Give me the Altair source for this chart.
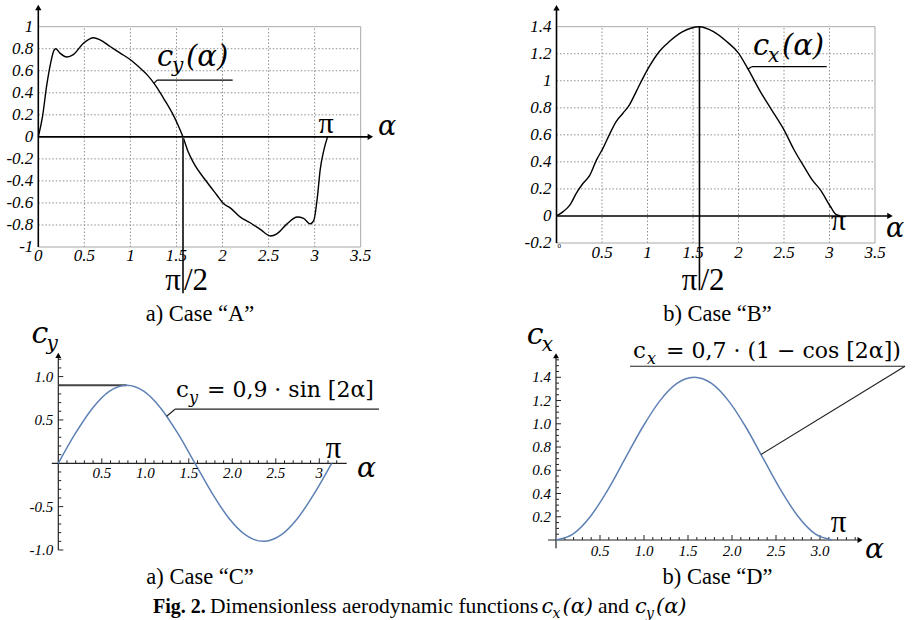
import altair as alt
import pandas as pd

TEXT_FONT = "Liberation Serif"
MATH_FONT = "DejaVu Serif"
BLUE = "#5e81b5"
GRID = "#8f8f8f"
FRAME = "#a8a8a8"

# ---------------- curve values ----------------
# Case A: lift coefficient c_y(alpha), measured curve
A_alpha = [0.00, 0.047, 0.09, 0.134, 0.17, 0.19, 0.235, 0.31, 0.38, 0.49, 0.60, 0.67,
           0.78, 0.89, 1.00, 1.105, 1.18, 1.27, 1.36, 1.47, 1.52, 1.57, 1.627, 1.68,
           1.83, 1.94, 2.01, 2.08, 2.19, 2.30, 2.41, 2.52, 2.59, 2.70, 2.81, 2.88,
           2.95, 2.99, 3.03, 3.06, 3.10, 3.14]
A_cy = [0.00, 0.19, 0.46, 0.67, 0.785, 0.80, 0.76, 0.725, 0.746, 0.85, 0.90, 0.88,
        0.82, 0.76, 0.70, 0.625, 0.565, 0.47, 0.35, 0.19, 0.10, 0.00, -0.136, -0.227,
        -0.41, -0.53, -0.606, -0.642, -0.727, -0.78, -0.84, -0.90, -0.88, -0.79, -0.727, -0.74,
        -0.79, -0.76, -0.545, -0.30, -0.12, 0.00]

# Case B: drag coefficient c_x(alpha), measured curve
B_alpha = [0.00, 0.073, 0.146, 0.22, 0.29, 0.365, 0.44, 0.51, 0.58, 0.657, 0.73, 0.80,
           0.876, 0.95, 1.02, 1.13, 1.24, 1.387, 1.571, 1.72, 1.87, 2.00, 2.11, 2.24,
           2.35, 2.50, 2.61, 2.72, 2.81, 2.90, 3.01, 3.07, 3.12]
B_cx = [0.00, 0.032, 0.08, 0.17, 0.24, 0.30, 0.415, 0.50, 0.60, 0.70, 0.76, 0.82,
        0.92, 1.02, 1.106, 1.217, 1.29, 1.363, 1.40, 1.365, 1.29, 1.205, 1.08, 0.92,
        0.80, 0.637, 0.49, 0.365, 0.267, 0.193, 0.07, 0.012, 0.00]

# Cases C and D: approximations sampled at alpha = k*pi/16
CD_alpha = [0.000, 0.196, 0.393, 0.589, 0.785, 0.982, 1.178, 1.374, 1.571,
            1.767, 1.963, 2.160, 2.356, 2.553, 2.749, 2.945, 3.142]
C_cy = [0.000, 0.344, 0.636, 0.832, 0.900, 0.832, 0.636, 0.344, 0.000,
        -0.344, -0.636, -0.832, -0.900, -0.832, -0.636, -0.344, 0.000]
D_cx = [0.000, 0.053, 0.205, 0.432, 0.700, 0.968, 1.195, 1.347, 1.400,
        1.347, 1.195, 0.968, 0.700, 0.432, 0.205, 0.053, 0.000]

# ---------------- tick values and labels ----------------
A_xticks = [0, 0.5, 1, 1.5, 2, 2.5, 3, 3.5]
A_xlabels = ["0", "0.5", "1", "1.5", "2", "2.5", "3", "3.5"]
A_yticks = [1, 0.8, 0.6, 0.4, 0.2, 0, -0.2, -0.4, -0.6, -0.8, -1]
A_ylabels = ["1", "0.8", "0.6", "0.4", "0.2", "0", "-0.2", "-0.4", "-0.6", "-0.8", "-1"]

B_xticks = [0.5, 1, 1.5, 2, 2.5, 3, 3.5]
B_xlabels = ["0.5", "1", "1.5", "2", "2.5", "3", "3.5"]
B_yticks = [1.4, 1.2, 1, 0.8, 0.6, 0.4, 0.2, 0, -0.2]
B_ylabels = ["1.4", "1.2", "1", "0.8", "0.6", "0.4", "0.2", "0", "-0.2"]

C_xticks = [0.5, 1.0, 1.5, 2.0, 2.5, 3.0]
C_xlabels = ["0.5", "1.0", "1.5", "2.0", "2.5", "3"]
C_yticks = [1.0, 0.5, -0.5, -1.0]
C_ylabels = ["1.0", "0.5", "-0.5", "-1.0"]

D_xticks = [0.5, 1.0, 1.5, 2.0, 2.5, 3.0]
D_xlabels = ["0.5", "1.0", "1.5", "2.0", "2.5", "3.0"]
D_yticks = [0.2, 0.4, 0.6, 0.8, 1.0, 1.2, 1.4]
D_ylabels = ["0.2", "0.4", "0.6", "0.8", "1.0", "1.2", "1.4"]


class Panel:
    """A set of layers sharing one x/y scale pair placed on the page."""

    def __init__(self, xdom, xrng, ydom, yrng):
        self.sx = alt.Scale(domain=xdom, range=xrng, nice=False, zero=False)
        self.sy = alt.Scale(domain=ydom, range=yrng, nice=False, zero=False)
        self.layers = []

    def _xy(self):
        return dict(x=alt.X("a:Q", scale=self.sx, axis=None),
                    y=alt.Y("v:Q", scale=self.sy, axis=None))

    def curve(self, a, v, color, width):
        df = pd.DataFrame({"a": a, "v": v})
        self.layers.append(
            alt.Chart(df).mark_line(color=color, strokeWidth=width, interpolate="monotone")
            .encode(**self._xy()))

    def segments(self, segs, color, width, dash=None):
        df = pd.DataFrame(segs, columns=["a", "v", "a2", "v2"])
        kw = dict(color=color, strokeWidth=width)
        if dash:
            kw["strokeDash"] = dash
        self.layers.append(
            alt.Chart(df).mark_rule(**kw)
            .encode(**self._xy(), x2=alt.X2("a2"), y2=alt.Y2("v2")))

    def xticks(self, vals, length, color="#222222", width=1):
        df = pd.DataFrame({"a": vals, "v": [0.0] * len(vals)})
        self.layers.append(
            alt.Chart(df).mark_rule(color=color, strokeWidth=width, y2Offset=-length)
            .encode(**self._xy(), y2=alt.Y2("v")))

    def yticks(self, vals, length, color="#222222", width=1):
        df = pd.DataFrame({"a": [0.0] * len(vals), "v": vals})
        self.layers.append(
            alt.Chart(df).mark_rule(color=color, strokeWidth=width, x2Offset=length)
            .encode(**self._xy(), x2=alt.X2("a")))

    def texts(self, a, v, labels, **mark):
        df = pd.DataFrame({"a": a, "v": v, "t": labels})
        mark.setdefault("color", "black")
        self.layers.append(
            alt.Chart(df).mark_text(**mark).encode(**self._xy(), text="t:N"))

    def arrow(self, a, v, shape, size=40):
        df = pd.DataFrame({"a": [a], "v": [v]})
        self.layers.append(
            alt.Chart(df).mark_point(shape=shape, filled=True, size=size, color="black", opacity=1)
            .encode(**self._xy()))

    def math(self, a, v, parts):
        # parts: (text, dx, dy, size, style)
        for text, dx, dy, size, style in parts:
            self.texts([a], [v], [text], font=MATH_FONT, fontSize=size, fontStyle=style,
                       align="left", baseline="alphabetic", dx=dx, dy=dy)

    def half_pi(self, a, v):
        # "π/2" written on both sides of the vertical marker line at alpha = pi/2
        self.texts([a], [v], ["π"], font=TEXT_FONT, fontSize=31, align="right",
                   baseline="alphabetic", dx=-2)
        self.texts([a], [v], ["/2"], font=TEXT_FONT, fontSize=31, align="left",
                   baseline="alphabetic", dx=1)

    def chart(self):
        return alt.layer(*self.layers)


def tick_labels(p, xt, xl, xv, xdy, yt, yl, size):
    p.texts(xt, [xv] * len(xt), xl, font=TEXT_FONT, fontSize=size, fontStyle="italic",
            align="center", baseline="middle", dy=xdy)
    p.texts([0.0] * len(yt), yt, yl, font=TEXT_FONT, fontSize=size, fontStyle="italic",
            align="right", baseline="middle", dx=-5)


def pi_label(p, a, v, size=30):
    p.texts([a], [v], ["π"], font=TEXT_FONT, fontSize=size, align="center", baseline="alphabetic")


def alpha_label(p, a, v, size=27):
    p.texts([a], [v], ["α"], font=MATH_FONT, fontSize=size, fontStyle="italic",
            align="center", baseline="alphabetic")


# ---------------- Case A ----------------
pA = Panel([0, 3.5], [38.3, 360.7], [-1, 1], [247, 26.7])
pA.segments([(x, -1, x, 1) for x in [0.5, 1, 1.5, 2, 2.5, 3]], GRID, 1, [1.5, 2])
pA.segments([(0, y, 3.5, y) for y in [-0.8, -0.6, -0.4, -0.2, 0.2, 0.4, 0.6, 0.8]], GRID, 1, [1.5, 2])
pA.segments([(0, 1, 3.5, 1), (3.5, -1, 3.5, 1), (0, -1, 3.5, -1)], FRAME, 1)
pA.curve(A_alpha, A_cy, "black", 1.4)
pA.segments([(0, -1, 0, 1.17), (0, 0, 3.6, 0)], "black", 1.6)
pA.arrow(0, 1.175, "triangle-up")
pA.arrow(3.605, 0, "triangle-right")
pA.segments([(1.571, 0, 1.571, -1.42)], "#3a3a3a", 2)
pA.segments([(1.289, 0.515, 2.11, 0.515), (1.289, 0.515, 1.256, 0.485)], "black", 1.2)
tick_labels(pA, A_xticks, A_xlabels, -1, 8.5, A_yticks, A_ylabels, 17)
pA.math(1.289, 0.639, [("c", 0, 0, 29, "italic"), ("y", 15, 6, 20, "italic"),
                       ("(α)", 29, 0, 29, "italic")])
pi_label(pA, 3.124, 0.039)
alpha_label(pA, 3.786, 0.021)
pA.half_pi(1.571, -1.39)

# ---------------- Case B ----------------
pB = Panel([0, 3.5], [556.5, 875], [-0.2, 1.4], [243, 26.7])
pB.segments([(x, -0.2, x, 1.4) for x in [0.5, 1, 1.5, 2, 2.5, 3]], GRID, 1, [1.5, 2])
pB.segments([(0, y, 3.5, y) for y in [0.2, 0.4, 0.6, 0.8, 1.0, 1.2]], GRID, 1, [1.5, 2])
pB.segments([(0, 1.4, 3.5, 1.4), (3.5, -0.2, 3.5, 1.4), (0, -0.2, 3.5, -0.2)], FRAME, 1)
pB.curve(B_alpha, B_cx, "black", 1.4)
pB.segments([(0, -0.2, 0, 1.53), (0, 0, 3.66, 0)], "black", 1.6)
pB.arrow(0, 1.54, "triangle-up")
pB.arrow(3.665, 0, "triangle-right")
pB.segments([(1.571, 1.4, 1.571, -0.55)], "black", 1.6)
pB.segments([(2.145, 1.104, 2.969, 1.104), (2.145, 1.104, 2.10, 1.085)], "black", 1.2)
tick_labels(pB, B_xticks, B_xlabels, -0.2, 10, B_yticks, B_ylabels, 17)
pB.texts([0], [-0.2], ["0"], font=TEXT_FONT, fontSize=7, align="left", baseline="middle", dx=1, dy=3)
pB.math(2.159, 1.191, [("c", 0, 0, 29, "italic"), ("x", 15, 7, 20, "italic"),
                       ("(α)", 29, 0, 29, "italic")])
pi_label(pB, 3.099, -0.104)
alpha_label(pB, 3.72, -0.155)
pB.half_pi(1.571, -0.545)

# ---------------- Case C ----------------
pC = Panel([0, 3.3], [58.3, 345.4], [-1, 1], [550, 376.6])
pC.segments([(0, -1, 0, 1.24), (-0.075, 0, 3.315, 0)], "#222222", 1.2)
pC.arrow(0, 1.245, "triangle-up", 35)
pC.yticks([round(-1 + 0.1 * k, 2) for k in range(23) if k % 5 != 0], 3)
pC.yticks([-1.0, -0.5, 0.5, 1.0], 5)
pC.xticks([round(0.1 * k, 2) for k in range(1, 33) if k % 5 != 0], 3)
pC.xticks([0.5, 1.0, 1.5, 2.0, 2.5, 3.0], 5)
pC.segments([(0, 0.9, 0.785, 0.9)], "#444444", 2)
pC.curve(CD_alpha, C_cy, BLUE, 1.5)
pC.segments([(1.341, 0.624, 3.686, 0.624), (1.341, 0.624, 1.246, 0.543)], "#222222", 1.2)
tick_labels(pC, C_xticks, C_xlabels, 0, 10, C_yticks, C_ylabels, 15)
pC.math(1.341, 0.762, [("c", 1, 0, 23, "normal"), ("y", 14, 6, 16, "italic"),
                       ("= 0,9 · sin [2α]", 32, 0, 22, "normal")])
pC.math(-0.307, 1.384, [("c", 0, 0, 30, "italic"), ("y", 15, 7, 20, "italic")])
pi_label(pC, 3.163, 0.061, 31)
alpha_label(pC, 3.543, -0.157, 28)

# ---------------- Case D ----------------
pD = Panel([0, 3.5], [556, 864], [0, 1.4], [540, 377.3])
pD.segments([(0, -0.07, 0, 1.58), (-0.09, 0, 3.45, 0)], "#222222", 1.2)
pD.arrow(0, 1.585, "triangle-up", 35)
pD.arrow(3.455, 0, "triangle-right", 35)
pD.yticks([round(0.05 * k, 2) for k in range(1, 32) if k % 4 != 0], 3)
pD.yticks([0.2, 0.4, 0.6, 0.8, 1.0, 1.2, 1.4], 5)
pD.xticks([round(0.1 * k, 2) for k in range(1, 35) if k % 5 != 0], 3)
pD.xticks([0.5, 1.0, 1.5, 2.0, 2.5, 3.0], 5)
pD.curve(CD_alpha, D_cx, BLUE, 1.5)
pD.segments([(0.841, 1.495, 3.966, 1.495), (3.966, 1.495, 2.33, 0.736)], "#222222", 1.2)
tick_labels(pD, D_xticks, D_xlabels, 0, 11, D_yticks, D_ylabels, 15)
pD.math(0.875, 1.564, [("c", 0, 0, 23, "normal"), ("x", 14, 6, 16, "italic"),
                       ("= 0,7 · (1 − cos [2α])", 33, 0, 22, "normal")])
pD.math(-0.333, 1.69, [("c", 0, 0, 30, "italic"), ("x", 15, 7, 20, "italic")])
pi_label(pD, 3.21, 0.069, 31)
alpha_label(pD, 3.619, -0.155, 28)

# ---------------- captions ----------------
page = Panel([0, 916], [0, 916], [0, 620], [0, 620])
page.texts([200, 717.5, 200, 717.5], [321, 321, 584, 584],
           ["a) Case “A”", "b) Case “B”", "a) Case “C”", "b) Case “D”"],
           font=TEXT_FONT, fontSize=22.5, align="center", baseline="alphabetic")
page.texts([153], [613], ["Fig. 2."], font=TEXT_FONT, fontSize=20, fontWeight="bold",
           align="left", baseline="alphabetic")
page.texts([210, 598], [613, 613], ["Dimensionless aerodynamic functions", "and"],
           font=TEXT_FONT, fontSize=21.5, align="left", baseline="alphabetic")
for x0, sub in [(541.5, "x"), (635, "y")]:
    page.math(x0, 613, [("c", 0, 0, 21, "italic"), (sub, 11, 5, 14, "italic"),
                        ("(α)", 21, 0, 21, "italic")])

chart = (
    alt.layer(pA.chart(), pB.chart(), pC.chart(), pD.chart(), page.chart())
    .resolve_scale(x="independent", y="independent")
    .properties(width=916, height=620, padding=0, background="white",
                autosize=alt.AutoSizeParams(type="none"))
    .configure_view(stroke=None)
)

chart.save("out.html", embed_options={"renderer": "svg", "actions": False})
